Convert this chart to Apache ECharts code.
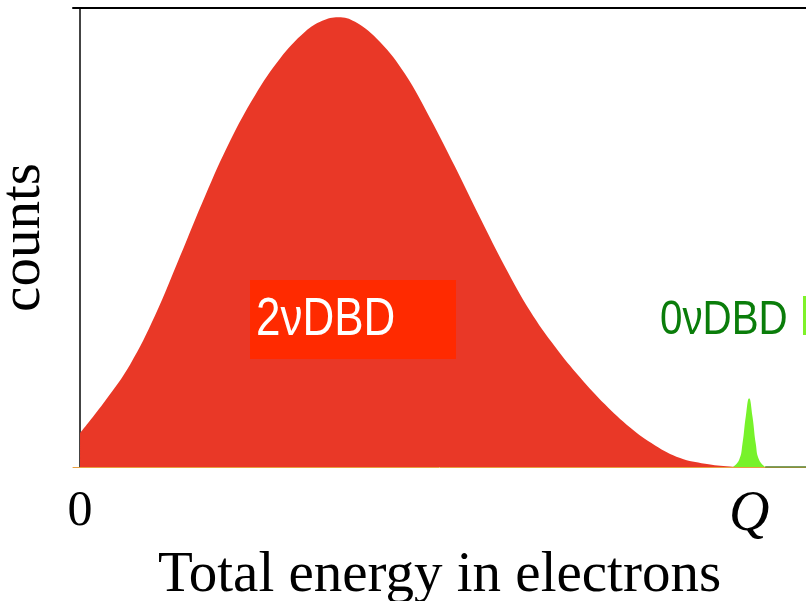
<!DOCTYPE html>
<html>
<head>
<meta charset="utf-8">
<script src="https://cdn.jsdelivr.net/npm/echarts@6/dist/echarts.min.js"></script>
<style>html,body{margin:0;padding:0;background:#fff;}#c{width:806px;height:601px;}</style>
</head>
<body>
<div id="c"></div>
<script>
// Energy in units where Q = 100
const twoNuX = [0, 3.74, 7.47, 11.21, 14.95, 18.68, 22.42, 26.16, 29.90, 33.63, 36.2, 38.6, 41.11, 44.84, 48.58, 52.32, 56.05, 59.79, 63.53, 67.26, 71.00, 74.74, 78.48, 82.21, 85.95, 89.69, 93.42, 97.16, 99.4];
const twoNuY = [7.4, 14.4, 22.3, 33.0, 45.9, 59.0, 71.0, 81.0, 89.0, 94.8, 97.2, 98.0, 97.0, 92.6, 85.6, 76.0, 65.4, 54.3, 43.6, 34.0, 26.2, 19.5, 13.6, 8.6, 4.7, 1.95, 0.7, 0.1, 0];
const zeroNuX = [97.6, 98.5, 99.0, 99.5, 100, 100.5, 101.0, 101.5, 102.4];
const zeroNuY = [0, 1.5, 5.0, 11.0, 15.0, 11.0, 5.0, 1.5, 0];
const tailX = [102.4, 108.5];
const tailY = [0, 0];
const tickValues = [0, 100];
const tickLabels = ['0', 'Q'];
const xTitle = 'Total energy in electrons';
const yTitle = 'counts';
const label2 = '2νDBD';
const label0 = '0νDBD';

const zip = (a, b) => a.map((v, i) => [v, b[i]]);

const chart = echarts.init(document.getElementById('c'), null, {renderer: 'canvas'});
chart.setOption({
  animation: false,
  backgroundColor: '#ffffff',
  grid: {left: 73, right: 0, top: 8, bottom: 134, containLabel: false, outerBoundsMode: 'none'},
  xAxis: [{
    type: 'value', min: -1.05, max: 108.5, position: 'bottom',
    axisLine: {show: true, lineStyle: {color: '#e8a040', width: 1}},
    axisTick: {show: false},
    splitLine: {show: false},
    axisLabel: {
      customValues: tickValues,
      margin: 20,
      formatter: v => { const i = tickValues.indexOf(v); return i === 1 ? '{q|' + tickLabels[i] + '}' : tickLabels[i]; },
      fontFamily: 'Liberation Serif', fontSize: 50, color: '#000',
      rich: {q: {fontFamily: 'Liberation Serif', fontStyle: 'italic', fontSize: 56, color: '#000'}}
    },
    name: xTitle, nameLocation: 'middle', nameGap: 76,
    nameTextStyle: {fontFamily: 'Liberation Serif', fontSize: 57, color: '#000'}
  }, {
    type: 'value', min: -1.05, max: 108.5, position: 'top',
    axisLine: {show: true, lineStyle: {color: '#000', width: 2}},
    axisTick: {show: false}, axisLabel: {show: false}, splitLine: {show: false}
  }],
  yAxis: {
    type: 'value', min: 0, max: 100,
    axisLine: {show: true, lineStyle: {color: '#444', width: 2}},
    axisTick: {show: false}, axisLabel: {show: false}, splitLine: {show: false},
    name: yTitle, nameLocation: 'middle', nameGap: 20, nameRotate: 90,
    nameTextStyle: {fontFamily: 'Liberation Serif', fontSize: 57, color: '#000'}
  },
  series: [{
    type: 'line', smooth: 0.4, symbol: 'none',
    data: zip(twoNuX, twoNuY),
    lineStyle: {width: 0},
    areaStyle: {color: '#E93827', opacity: 1}
  }, {
    type: 'line', smooth: 0.5, symbol: 'none',
    data: zip(zeroNuX, zeroNuY),
    lineStyle: {width: 0},
    areaStyle: {color: '#77F22A', opacity: 1}
  }, {
    type: 'line', symbol: 'none',
    data: zip(tailX, tailY),
    lineStyle: {width: 1.5, color: '#4d7f2f'}
  }],
  graphic: [{
    type: 'rect', x: 250, y: 280, shape: {width: 206, height: 79},
    style: {fill: '#FF2A00'}, z: 100
  }, {
    type: 'text', x: 256, y: 294, scaleX: 0.83, z: 101,
    style: {text: label2, fill: '#fff', font: '53px "Liberation Sans", sans-serif'}
  }, {
    type: 'text', x: 660, y: 297, scaleX: 0.84, z: 101,
    style: {text: label0, fill: '#0a7d0a', font: '48px "Liberation Sans", sans-serif'}
  }, {
    type: 'rect', x: 803, y: 296, shape: {width: 5, height: 39},
    style: {fill: '#7FF22A'}, z: 100
  }]
});
</script>
</body>
</html>
